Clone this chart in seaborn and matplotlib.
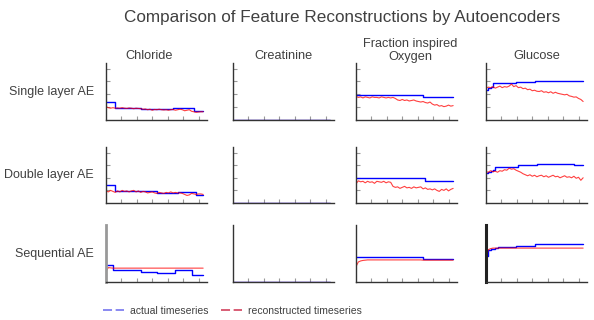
"""Autoencoder reconstruction grid: actual vs reconstructed feature timeseries."""

import matplotlib

matplotlib.use("Agg")
import matplotlib.pyplot as plt
from matplotlib.lines import Line2D
import seaborn as sns

sns.set_theme(style="white")
plt.rcParams["font.family"] = ["Liberation Sans", "DejaVu Sans"]

TEXT = "#404040"

FEATURES = ["Chloride", "Creatinine", "Fraction inspired\nOxygen", "Glucose"]
MODELS = ["Single layer AE", "Double layer AE", "Sequential AE"]

TIME = list(range(0, 127, 3))
FLAT_TIME = [0, 126]

# --- single layer AE ---
SINGLE_CHLORIDE_ACTUAL = [
    0.35, 0.35, 0.35, 0.35, 0.24, 0.24, 0.24, 0.24, 0.24, 0.24,
    0.24, 0.24, 0.24, 0.24, 0.24, 0.215, 0.215, 0.215, 0.215, 0.215,
    0.215, 0.215, 0.215, 0.215, 0.215, 0.215, 0.215, 0.215, 0.215, 0.24,
    0.24, 0.24, 0.24, 0.24, 0.24, 0.24, 0.24, 0.24, 0.17, 0.17,
    0.17, 0.17, 0.17,
]
SINGLE_CHLORIDE_RECON = [
    0.26, 0.24, 0.23, 0.24, 0.23, 0.235, 0.23, 0.24, 0.23, 0.225,
    0.235, 0.23, 0.22, 0.23, 0.225, 0.22, 0.21, 0.215, 0.20, 0.21,
    0.19, 0.205, 0.20, 0.21, 0.20, 0.195, 0.20, 0.19, 0.20, 0.205,
    0.19, 0.20, 0.21, 0.20, 0.18, 0.19, 0.20, 0.17, 0.16, 0.15,
    0.155, 0.16, 0.16,
]
SINGLE_CREATININE_ACTUAL = [0.005, 0.005]
SINGLE_CREATININE_RECON = [0.004, 0.004]
SINGLE_FIO2_ACTUAL = [
    0.49, 0.49, 0.49, 0.49, 0.49, 0.49, 0.49, 0.49, 0.49, 0.49,
    0.49, 0.49, 0.49, 0.49, 0.49, 0.49, 0.49, 0.49, 0.49, 0.49,
    0.49, 0.49, 0.49, 0.49, 0.49, 0.49, 0.49, 0.49, 0.49, 0.44,
    0.44, 0.44, 0.44, 0.44, 0.44, 0.44, 0.44, 0.44, 0.44, 0.44,
    0.44, 0.44, 0.44,
]
SINGLE_FIO2_RECON = [
    0.46, 0.44, 0.45, 0.43, 0.45, 0.44, 0.43, 0.45, 0.44, 0.44,
    0.43, 0.45, 0.44, 0.43, 0.44, 0.43, 0.44, 0.42, 0.39, 0.38,
    0.40, 0.38, 0.39, 0.37, 0.38, 0.39, 0.37, 0.36, 0.35, 0.36,
    0.34, 0.33, 0.35, 0.31, 0.29, 0.30, 0.27, 0.28, 0.26, 0.27,
    0.29, 0.27, 0.28,
]
SINGLE_GLUCOSE_ACTUAL = [
    0.59, 0.62, 0.645, 0.72, 0.72, 0.72, 0.72, 0.72, 0.72, 0.72,
    0.72, 0.72, 0.72, 0.745, 0.745, 0.745, 0.745, 0.745, 0.745, 0.745,
    0.745, 0.765, 0.765, 0.765, 0.765, 0.765, 0.765, 0.765, 0.765, 0.765,
    0.765, 0.765, 0.765, 0.75, 0.75, 0.75, 0.75, 0.75, 0.75, 0.75,
    0.75, 0.75, 0.75,
]
SINGLE_GLUCOSE_RECON = [
    0.62, 0.64, 0.63, 0.65, 0.62, 0.64, 0.66, 0.63, 0.65, 0.64,
    0.66, 0.70, 0.65, 0.67, 0.63, 0.64, 0.61, 0.62, 0.59, 0.60,
    0.57, 0.58, 0.56, 0.555, 0.57, 0.54, 0.55, 0.53, 0.55, 0.52,
    0.54, 0.52, 0.51, 0.50, 0.49, 0.50, 0.47, 0.46, 0.445, 0.45,
    0.42, 0.40, 0.36,
]

# --- double layer AE ---
DOUBLE_CHLORIDE_ACTUAL = [
    0.36, 0.36, 0.36, 0.36, 0.24, 0.24, 0.24, 0.24, 0.24, 0.24,
    0.24, 0.24, 0.24, 0.24, 0.24, 0.24, 0.24, 0.24, 0.24, 0.24,
    0.24, 0.24, 0.195, 0.195, 0.195, 0.195, 0.195, 0.195, 0.195, 0.195,
    0.195, 0.225, 0.225, 0.225, 0.225, 0.225, 0.225, 0.225, 0.225, 0.16,
    0.16, 0.16, 0.16,
]
DOUBLE_CHLORIDE_RECON = [
    0.24, 0.22, 0.25, 0.23, 0.21, 0.24, 0.22, 0.25, 0.23, 0.24,
    0.22, 0.24, 0.25, 0.22, 0.24, 0.21, 0.23, 0.22, 0.20, 0.21,
    0.22, 0.20, 0.19, 0.21, 0.20, 0.19, 0.21, 0.20, 0.22, 0.20,
    0.21, 0.20, 0.20, 0.19, 0.17, 0.15, 0.16, 0.19, 0.18, 0.17,
    0.18, 0.18, 0.17,
]
DOUBLE_CREATININE_ACTUAL = [0.004, 0.004]
DOUBLE_CREATININE_RECON = [0.004, 0.004]
DOUBLE_FIO2_ACTUAL = [
    0.49, 0.49, 0.49, 0.49, 0.49, 0.49, 0.49, 0.49, 0.49, 0.49,
    0.49, 0.49, 0.49, 0.49, 0.49, 0.49, 0.49, 0.49, 0.49, 0.49,
    0.49, 0.49, 0.49, 0.49, 0.49, 0.49, 0.49, 0.49, 0.49, 0.49,
    0.44, 0.44, 0.44, 0.44, 0.44, 0.44, 0.44, 0.44, 0.44, 0.44,
    0.44, 0.44, 0.44,
]
DOUBLE_FIO2_RECON = [
    0.38, 0.44, 0.42, 0.43, 0.40, 0.43, 0.41, 0.42, 0.39, 0.43,
    0.42, 0.41, 0.43, 0.40, 0.42, 0.41, 0.33, 0.31, 0.32, 0.29,
    0.31, 0.33, 0.30, 0.31, 0.29, 0.32, 0.30, 0.31, 0.32, 0.28,
    0.30, 0.27, 0.28, 0.26, 0.28, 0.25, 0.23, 0.27, 0.25, 0.28,
    0.24, 0.27, 0.29,
]
DOUBLE_GLUCOSE_ACTUAL = [
    0.59, 0.62, 0.64, 0.655, 0.72, 0.72, 0.72, 0.72, 0.72, 0.72,
    0.72, 0.72, 0.72, 0.72, 0.75, 0.75, 0.75, 0.75, 0.75, 0.75,
    0.75, 0.75, 0.77, 0.77, 0.77, 0.77, 0.77, 0.77, 0.77, 0.77,
    0.77, 0.765, 0.765, 0.765, 0.765, 0.765, 0.765, 0.765, 0.75, 0.75,
    0.75, 0.75, 0.75,
]
DOUBLE_GLUCOSE_RECON = [
    0.62, 0.61, 0.64, 0.62, 0.63, 0.61, 0.64, 0.63, 0.66, 0.65,
    0.69, 0.67, 0.68, 0.65, 0.63, 0.61, 0.58, 0.56, 0.54, 0.56,
    0.53, 0.55, 0.52, 0.54, 0.55, 0.52, 0.54, 0.51, 0.53, 0.55,
    0.52, 0.53, 0.50, 0.52, 0.54, 0.51, 0.52, 0.50, 0.53, 0.49,
    0.51, 0.45, 0.50,
]

# --- sequential AE ---
SEQ_CHLORIDE_ACTUAL = [
    0.33, 0.33, 0.33, 0.23, 0.23, 0.23, 0.23, 0.23, 0.23, 0.23,
    0.23, 0.23, 0.23, 0.23, 0.23, 0.20, 0.20, 0.20, 0.20, 0.20,
    0.20, 0.20, 0.18, 0.18, 0.18, 0.18, 0.18, 0.18, 0.18, 0.18,
    0.23, 0.23, 0.23, 0.23, 0.23, 0.23, 0.23, 0.145, 0.145, 0.145,
    0.145, 0.145, 0.145,
]
SEQ_CHLORIDE_RECON = [
    0.21, 0.28, 0.275, 0.27, 0.27, 0.27, 0.27, 0.27, 0.27, 0.27,
    0.27, 0.27, 0.27, 0.27, 0.27, 0.27, 0.27, 0.27, 0.27, 0.27,
    0.27, 0.27, 0.27, 0.27, 0.27, 0.27, 0.27, 0.27, 0.27, 0.27,
    0.27, 0.27, 0.27, 0.27, 0.27, 0.27, 0.27, 0.27, 0.27, 0.27,
    0.27, 0.27, 0.27,
]
SEQ_CREATININE_ACTUAL = [0.004, 0.004]
SEQ_CREATININE_RECON = [0.003, 0.003]
SEQ_FIO2_ACTUAL = [
    0.48, 0.48, 0.48, 0.48, 0.48, 0.48, 0.48, 0.48, 0.48, 0.48,
    0.48, 0.48, 0.48, 0.48, 0.48, 0.48, 0.48, 0.48, 0.48, 0.48,
    0.48, 0.48, 0.48, 0.48, 0.48, 0.48, 0.48, 0.48, 0.48, 0.45,
    0.45, 0.45, 0.45, 0.45, 0.45, 0.45, 0.45, 0.45, 0.45, 0.45,
    0.45, 0.45, 0.45,
]
SEQ_FIO2_RECON = [
    0.30, 0.39, 0.41, 0.42, 0.425, 0.43, 0.43, 0.43, 0.43, 0.43,
    0.43, 0.43, 0.43, 0.43, 0.43, 0.43, 0.43, 0.43, 0.43, 0.43,
    0.43, 0.43, 0.43, 0.43, 0.43, 0.43, 0.43, 0.43, 0.43, 0.425,
    0.425, 0.425, 0.425, 0.425, 0.425, 0.425, 0.425, 0.425, 0.425, 0.425,
    0.425, 0.425, 0.425,
]
SEQ_GLUCOSE_ACTUAL = [
    0.50, 0.63, 0.65, 0.65, 0.66, 0.69, 0.69, 0.69, 0.69, 0.69,
    0.69, 0.69, 0.69, 0.71, 0.71, 0.71, 0.71, 0.71, 0.71, 0.71,
    0.71, 0.74, 0.74, 0.74, 0.74, 0.74, 0.74, 0.74, 0.74, 0.745,
    0.745, 0.745, 0.745, 0.745, 0.745, 0.745, 0.735, 0.735, 0.735, 0.735,
    0.735, 0.735, 0.735,
]
SEQ_GLUCOSE_RECON = [
    0.47, 0.63, 0.65, 0.66, 0.66, 0.66, 0.66, 0.66, 0.66, 0.66,
    0.66, 0.66, 0.66, 0.66, 0.66, 0.66, 0.66, 0.66, 0.66, 0.66,
    0.66, 0.66, 0.66, 0.66, 0.66, 0.66, 0.66, 0.66, 0.66, 0.66,
    0.66, 0.66, 0.66, 0.66, 0.66, 0.66, 0.66, 0.66, 0.66, 0.66,
    0.66, 0.66, 0.66,
]

GRID = [
    [
        (TIME, SINGLE_CHLORIDE_ACTUAL, SINGLE_CHLORIDE_RECON),
        (FLAT_TIME, SINGLE_CREATININE_ACTUAL, SINGLE_CREATININE_RECON),
        (TIME, SINGLE_FIO2_ACTUAL, SINGLE_FIO2_RECON),
        (TIME, SINGLE_GLUCOSE_ACTUAL, SINGLE_GLUCOSE_RECON),
    ],
    [
        (TIME, DOUBLE_CHLORIDE_ACTUAL, DOUBLE_CHLORIDE_RECON),
        (FLAT_TIME, DOUBLE_CREATININE_ACTUAL, DOUBLE_CREATININE_RECON),
        (TIME, DOUBLE_FIO2_ACTUAL, DOUBLE_FIO2_RECON),
        (TIME, DOUBLE_GLUCOSE_ACTUAL, DOUBLE_GLUCOSE_RECON),
    ],
    [
        (TIME, SEQ_CHLORIDE_ACTUAL, SEQ_CHLORIDE_RECON),
        (FLAT_TIME, SEQ_CREATININE_ACTUAL, SEQ_CREATININE_RECON),
        (TIME, SEQ_FIO2_ACTUAL, SEQ_FIO2_RECON),
        (TIME, SEQ_GLUCOSE_ACTUAL, SEQ_GLUCOSE_RECON),
    ],
]

# layout in pixels of the 594x320 canvas
FIG_W, FIG_H = 594, 320
COL_LEFT = [106, 233, 356, 486]
COL_W = 101
ROW_TOP = [63, 147, 225]
ROW_H = [57, 56, 57]
TITLE_X = [0.43, 0.5, 0.54, 0.5]

fig = plt.figure(figsize=(FIG_W / 100, FIG_H / 100), dpi=100)

for r, row in enumerate(GRID):
    for c, (t, actual, recon) in enumerate(row):
        rect = [
            COL_LEFT[c] / FIG_W,
            1 - (ROW_TOP[r] + ROW_H[r]) / FIG_H,
            COL_W / FIG_W,
            ROW_H[r] / FIG_H,
        ]
        ax = fig.add_axes(rect)
        sns.lineplot(x=t, y=actual, ax=ax, color="blue", lw=1.0,
                     drawstyle="steps-post", legend=False)
        sns.lineplot(x=t, y=recon, ax=ax, color="red", lw=0.8, alpha=0.75,
                     legend=False)

        ax.set_xlim(0, 131)
        ax.set_ylim(0, 1.11)
        ax.set_xticks([20, 40, 60, 80, 100, 120])
        ax.set_yticks([0.25, 0.5, 0.75, 1.0] if r < 2 else [])
        ax.tick_params(bottom=True, left=True, direction="in", length=3,
                       width=0.8, colors="#999999",
                       labelleft=False, labelbottom=False)
        ax.set_xlabel("")
        ax.set_ylabel("")
        for side in ("top", "right"):
            ax.spines[side].set_visible(False)
        for side in ("left", "bottom"):
            ax.spines[side].set_color("#333333")
            ax.spines[side].set_linewidth(1.0)
        if r == 2 and c == 0:
            ax.spines["left"].set_color("#999999")
            ax.spines["left"].set_linewidth(2.0)
        if r == 2 and c == 3:
            ax.spines["left"].set_color("#222222")
            ax.spines["left"].set_linewidth(2.2)

        if r == 0:
            ax.set_title(FEATURES[c], fontsize=9.2, color=TEXT, x=TITLE_X[c],
                         pad=-0.5 if "\n" in FEATURES[c] else 3,
                         linespacing=1.1)
        if c == 0:
            ax.annotate(MODELS[r], xy=(0, 0.5), xycoords="axes fraction",
                        xytext=(-12, 0), textcoords="offset pixels",
                        ha="right", va="center", fontsize=9, color=TEXT)

fig.text(342.5 / FIG_W, 1 - 22 / FIG_H,
         "Comparison of Feature Reconstructions by Autoencoders",
         ha="center", va="baseline", fontsize=12.3, color=TEXT)

handles = [
    Line2D([], [], color="#8080f0", lw=1.3, ls=(0, (5, 2))),
    Line2D([], [], color="#d6506a", lw=1.3, ls=(0, (5, 2))),
]
fig.legend(handles, ["actual timeseries", "reconstructed timeseries"],
           loc="center left", bbox_to_anchor=(103 / FIG_W, 9 / FIG_H),
           ncol=2, frameon=False, fontsize=7.5, labelcolor=TEXT,
           handlelength=2, handletextpad=0.6, columnspacing=1.2,
           borderpad=0, borderaxespad=0)

fig.savefig("out.png", dpi=100)
